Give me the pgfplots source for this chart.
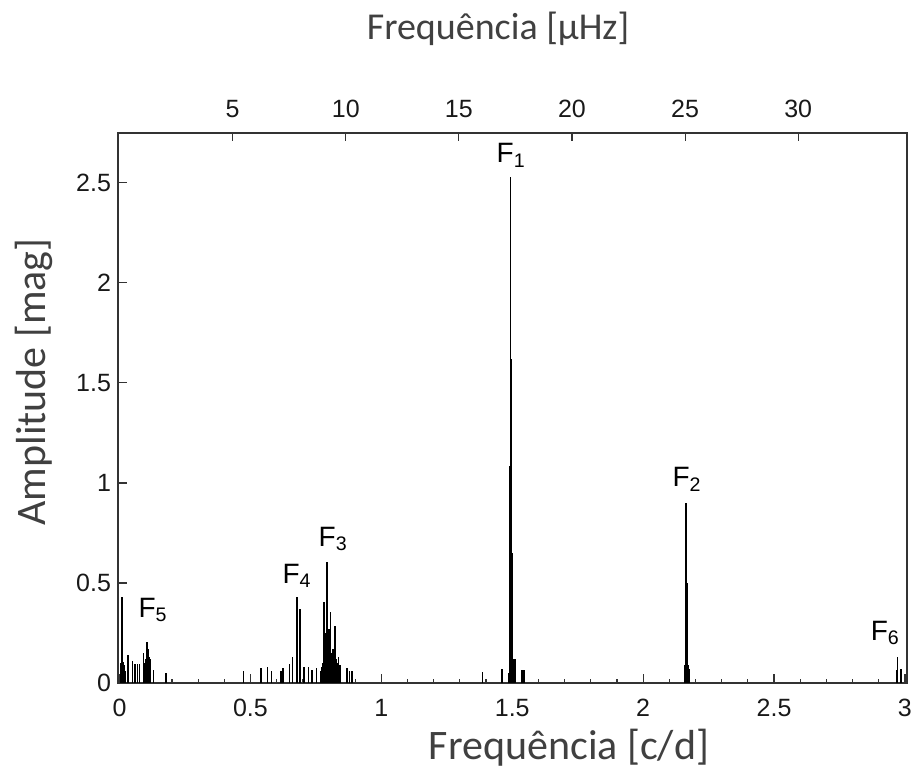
\documentclass[border=0pt]{standalone}
\usepackage{fontspec}
\setmainfont{Liberation Sans}
\newfontfamily\carlito{Carlito}
\usepackage{pgfplots}
\pgfplotsset{compat=1.18}
\definecolor{titlegray}{HTML}{404040}
\definecolor{axgray}{HTML}{333333}
\begin{document}
\begin{tikzpicture}
\begin{axis}[name=main, scale only axis, width=394.5pt, height=275pt,
  xmin=-0.006, xmax=3.008, ymin=0, ymax=2.749,
  axis line style={axgray, line width=0.6pt},
  tick align=inside,
  xtick={0,0.5,1,1.5,2,2.5,3}, xticklabels={0,0.5,1,1.5,2,2.5,3},
  minor x tick num=4,
  ytick={0,0.5,1,1.5,2,2.5}, yticklabels={0,0.5,1,1.5,2,2.5},
  xtick pos=bottom, ytick pos=left,
  major tick length=4.5pt, minor tick length=2.2pt,
  tick style={axgray, line width=0.6pt},
  ticklabel style={font=\fontsize{12.5}{14}\selectfont, text=black!90},
  xticklabel style={inner sep=1pt, yshift=-7pt},
  clip=false]
\addplot[ycomb, black, line width=0.8pt, mark=none] coordinates {
(0.005,0.10) (0.010,0.43) (0.012,0.105) (0.016,0.09) (0.020,0.06)
(0.032,0.14) (0.049,0.11) (0.059,0.093) (0.068,0.093) (0.076,0.093)
(0.091,0.15) (0.095,0.08) (0.098,0.10) (0.101,0.12) (0.104,0.205)
(0.107,0.15) (0.110,0.17) (0.113,0.13) (0.117,0.12) (0.129,0.067)
(0.178,0.052) (0.473,0.06) (0.541,0.075) (0.565,0.08) (0.581,0.06)
(0.617,0.06) (0.624,0.075) (0.649,0.095) (0.660,0.13) (0.677,0.43)
(0.690,0.37) (0.705,0.08) (0.721,0.08) (0.736,0.065) (0.753,0.075)
(0.770,0.06) (0.773,0.08) (0.776,0.10) (0.780,0.405) (0.784,0.20)
(0.788,0.25) (0.793,0.605) (0.797,0.27) (0.800,0.27) (0.806,0.355)
(0.810,0.15) (0.814,0.17) (0.818,0.17) (0.823,0.283) (0.827,0.12)
(0.831,0.10) (0.836,0.13) (0.843,0.09) (0.868,0.075) (0.878,0.06)
(0.887,0.06) (1.386,0.055) (1.462,0.07)
(1.487,0.05) (1.489,1.085) (1.491,1.085) (1.493,2.53) (1.495,1.62)
(1.497,0.65) (1.499,0.65) (1.501,0.65) (1.503,0.12) (1.506,0.12) (1.510,0.12)
(1.535,0.065) (1.541,0.065) (1.547,0.065)
(2.158,0.09) (2.161,0.09) (2.164,0.90) (2.167,0.50) (2.170,0.09)
(2.173,0.09) (2.176,0.07)
(2.969,0.064) (2.972,0.128) (2.986,0.07)
};
\node[anchor=base west, inner sep=0, font=\fontsize{14}{16}\selectfont] at (axis cs:1.439,2.60) {F\textsubscript{1}};
\node[anchor=base west, inner sep=0, font=\fontsize{14}{16}\selectfont] at (axis cs:2.111,0.98) {F\textsubscript{2}};
\node[anchor=base west, inner sep=0, font=\fontsize{14}{16}\selectfont] at (axis cs:0.759,0.683) {F\textsubscript{3}};
\node[anchor=base west, inner sep=0, font=\fontsize{14}{16}\selectfont] at (axis cs:0.621,0.498) {F\textsubscript{4}};
\node[anchor=base west, inner sep=0, font=\fontsize{14}{16}\selectfont] at (axis cs:0.071,0.328) {F\textsubscript{5}};
\node[anchor=base west, inner sep=0, font=\fontsize{14}{16}\selectfont] at (axis cs:2.868,0.213) {F\textsubscript{6}};
\end{axis}
\begin{axis}[scale only axis, width=394.5pt, height=275pt,
  xmin=-0.069, xmax=34.81, ymin=0, ymax=1,
  axis x line*=top, axis y line=none,
  axis line style={axgray, line width=0.6pt},
  tick align=inside, major tick length=4pt,
  tick style={axgray, line width=0.6pt},
  xtick={5,10,15,20,25,30},
  /pgf/number format/assume math mode=true,
  ticklabel style={font=\fontsize{12.5}{14}\selectfont, text=black!90},
  xticklabel style={yshift=4pt}]
\addplot[draw=none] coordinates {(5,0.5)};
\end{axis}
\node[rotate=90, font=\carlito\fontsize{21}{24}\selectfont, text=titlegray] at ([shift={(-42pt,150.5pt)}]main.south west) {Amplitude [mag]};
\node[anchor=base, inner sep=0pt, font=\carlito\fontsize{21}{24}\selectfont, text=titlegray] at ([shift={(225.5pt,-38pt)}]main.south west) {Frequência [c/d]};
\node[anchor=base, font=\carlito\fontsize{19}{22}\selectfont, text=titlegray] at ([shift={(190pt,321.5pt)}]main.south west) {Frequência [µHz]};
\pgfresetboundingbox
\path[use as bounding box] ([shift={(-59pt,-44.5pt)}]main.south west) rectangle ([shift={(5.5pt,66.5pt)}]main.north east);
\end{tikzpicture}
\end{document}
